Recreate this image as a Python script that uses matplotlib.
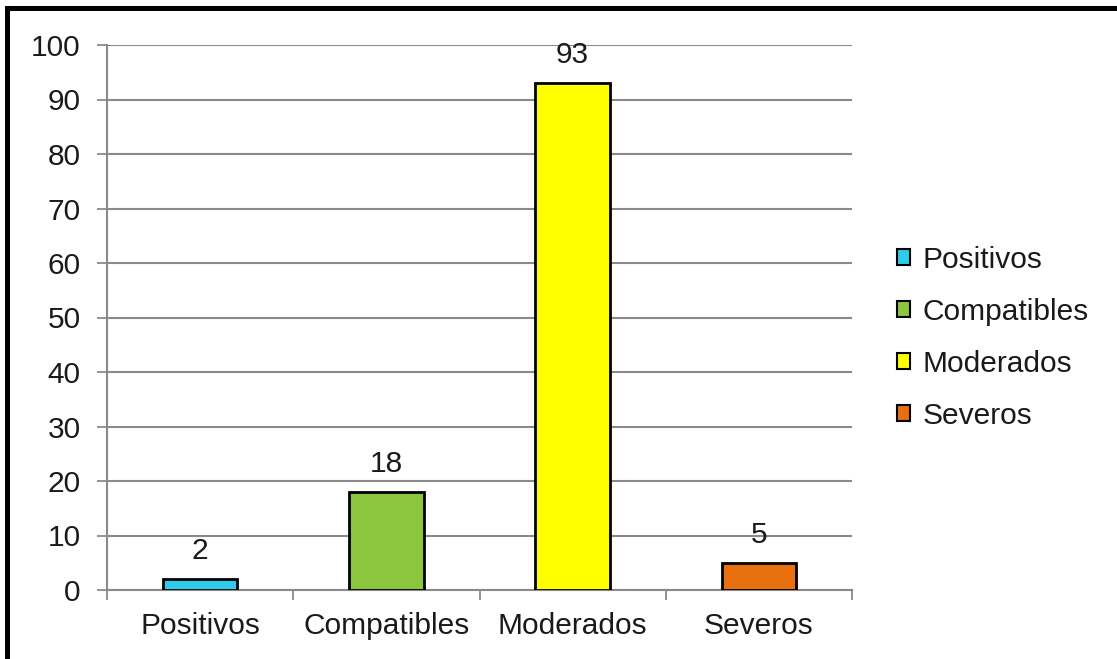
import matplotlib
matplotlib.use("Agg")
import matplotlib.pyplot as plt
from matplotlib.patches import Patch, Rectangle

# data
categories = ["Positivos", "Compatibles", "Moderados", "Severos"]
values = [2, 18, 93, 5]
colors = ["#2ECBEA", "#8CC63E", "#FFFF00", "#E8700E"]
yticks = list(range(0, 101, 10))

plt.rcParams['font.family'] = ['Liberation Sans', 'DejaVu Sans']
fs = 21.5

W, H = 1117, 659
fig = plt.figure(figsize=(W / 100, H / 100), dpi=100)
ax = fig.add_axes([107 / W, 1 - 590 / H, (852 - 107) / W, (590 - 45) / H])

x = list(range(len(categories)))
bars = ax.bar(x, values, width=0.4, color=colors, edgecolor="black", linewidth=2, zorder=3)

for xi, v in zip(x, values):
    ax.annotate(str(v), (xi, v), xytext=(0, 10), textcoords="offset points",
                ha="center", va="bottom", fontsize=fs, color="#1a1a1a")

ax.set_xlim(-0.5, 3.5)
ax.set_ylim(0, 100)
ax.set_yticks(yticks)
ax.yaxis.grid(True, color="#8a8a8a", linewidth=1.5, zorder=0)
ax.tick_params(axis="y", length=7, width=1.3, color="#8a8a8a", labelsize=fs, pad=12,
               labelcolor="#1a1a1a")

ax.set_xticks([-0.5, 0.5, 1.5, 2.5, 3.5])
ax.set_xticklabels([])
ax.set_xticks(x, minor=True)
ax.set_xticklabels(categories, minor=True)
ax.tick_params(axis="x", which="major", length=7, width=1.3, color="#8a8a8a", direction="out")
ax.tick_params(axis="x", which="minor", length=0, labelsize=fs, pad=16, labelcolor="#1a1a1a")

for s in ["top", "right"]:
    ax.spines[s].set_visible(False)
for s in ["left", "bottom"]:
    ax.spines[s].set_color("#8a8a8a")
    ax.spines[s].set_linewidth(1.5)

handles = [Patch(facecolor=c, edgecolor="black", linewidth=1.5) for c in colors]
fig.legend(handles, categories, loc="upper left", bbox_to_anchor=(897 / W, 1 - 246 / H),
           frameon=False, fontsize=fs, handlelength=0.45, handleheight=0.45,
           handletextpad=0.4, labelspacing=0.8, borderaxespad=0, borderpad=0,
           labelcolor="#1a1a1a")

# outer frame
fig.patches.append(Rectangle((6.5 / W, -0.1), 1.2, 1 - 8 / H + 0.1, transform=fig.transFigure,
                             fill=False, edgecolor="black", linewidth=3.6))

fig.savefig("out.png", dpi=100)
